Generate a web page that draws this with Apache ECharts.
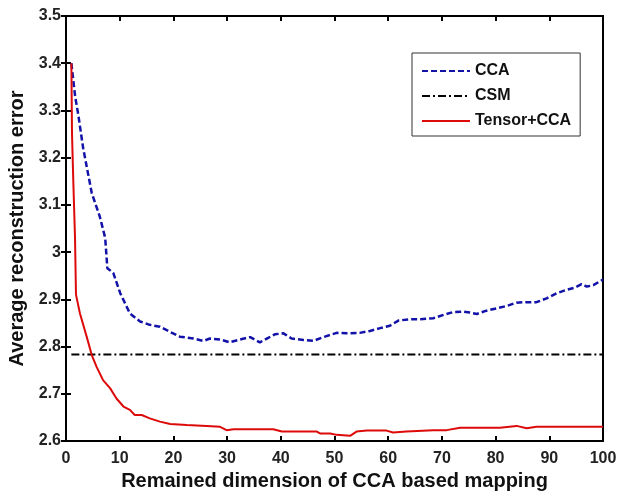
<!DOCTYPE html>
<html>
<head>
<meta charset="utf-8">
<script src="https://cdn.jsdelivr.net/npm/echarts@6/dist/echarts.min.js"></script>
<style>html,body{margin:0;padding:0;background:#fff}#c{width:619px;height:491px}</style>
</head>
<body>
<div id="c"></div>
<script>
const ccaX = [1,1.7,2.3,3.2,4.8,6.3,7.3,7.7,8.8,10.1,11.9,13.8,15.6,17.5,19.4,21.2,23.7,25.6,26.8,28.7,30.5,32.4,34.3,36.1,37.4,38.9,40.5,42.0,44.2,46.1,47.9,50.4,52.3,54.7,56.6,58.5,60.3,61.9,64.1,65.9,68.4,70.3,72.1,74.0,75.2,76.5,78.3,80.2,82.1,83.9,85.8,87.6,89.5,91.4,93.2,94.8,96.0,97.0,98.2,100];
const ccaY = [3.40,3.33,3.29,3.22,3.125,3.075,3.03,2.966,2.956,2.913,2.870,2.853,2.846,2.842,2.831,2.821,2.817,2.812,2.817,2.815,2.809,2.815,2.820,2.809,2.817,2.826,2.828,2.817,2.814,2.812,2.820,2.829,2.828,2.829,2.833,2.839,2.844,2.855,2.858,2.858,2.860,2.867,2.873,2.874,2.872,2.869,2.876,2.881,2.886,2.893,2.894,2.894,2.902,2.913,2.920,2.925,2.932,2.927,2.930,2.942];
const tensorX = [1,1.12,1.36,1.68,1.86,2.6,3.85,4.8,5.7,6.9,8.2,9.4,10.7,11.9,12.8,14.1,15.6,17.5,19.4,22.5,26.2,28.7,29.9,31.2,38.6,40.2,46.7,47.3,49.2,50.4,52.9,54.1,56,59.7,60.9,63.4,68.4,70.9,73.4,80.8,83.9,85.8,87.6,100];
const tensorY = [3.40,3.25,3.15,3.03,2.91,2.87,2.821,2.782,2.757,2.729,2.712,2.690,2.673,2.666,2.655,2.655,2.648,2.641,2.636,2.634,2.632,2.630,2.623,2.625,2.625,2.620,2.620,2.616,2.616,2.613,2.611,2.620,2.622,2.622,2.618,2.620,2.623,2.623,2.628,2.628,2.632,2.627,2.630,2.630];
const csmX = [1,100];
const csmY = [2.783,2.783];
const seriesNames = ['CCA','CSM','Tensor+CCA'];
const xTicks = {min:0,max:100,interval:10};
const yTicks = {min:2.6,max:3.5,interval:0.1};

const zip = (xs, ys) => xs.map((x, i) => [x, ys[i]]);
const labelFont = {color:'#222',fontFamily:'Liberation Sans, Arial',fontWeight:'bold',fontSize:16};
const titleFont = {fontFamily:'Liberation Sans, Arial',fontWeight:'bold',fontSize:20,color:'#111'};
const chart = echarts.init(document.getElementById('c'));
chart.setOption({
  animation:false,
  backgroundColor:'#fff',
  grid:{left:66,right:16,top:16,bottom:50,containLabel:false,outerBoundsMode:'none',show:true,borderColor:'#000',borderWidth:2,backgroundColor:'transparent'},
  legend:{
    orient:'vertical',left:412,top:53,
    padding:[10,9,7,9],itemGap:9,itemWidth:48,itemHeight:14,
    borderColor:'#333',borderWidth:1,backgroundColor:'#fff',
    itemStyle:{opacity:0},
    textStyle:{fontFamily:'Liberation Sans, Arial',fontWeight:'bold',fontSize:16,color:'#111'},
    data:seriesNames
  },
  xAxis:[{
    type:'value',min:xTicks.min,max:xTicks.max,interval:xTicks.interval,
    name:'Remained dimension of CCA based mapping',nameLocation:'middle',nameGap:28,
    nameTextStyle:titleFont,
    axisLine:{lineStyle:{color:'#000',width:2}},
    axisTick:{inside:true,length:5,lineStyle:{color:'#000',width:2}},
    axisLabel:Object.assign({margin:10},labelFont),
    splitLine:{show:false}
  },{
    type:'value',position:'top',min:xTicks.min,max:xTicks.max,interval:xTicks.interval,
    axisLine:{lineStyle:{color:'#000',width:2}},
    axisTick:{inside:true,length:5,lineStyle:{color:'#000',width:2}},
    axisLabel:{show:false},splitLine:{show:false}
  }],
  yAxis:[{
    type:'value',min:yTicks.min,max:yTicks.max,interval:yTicks.interval,
    name:'Average reconstruction error',nameLocation:'middle',nameGap:38,
    nameTextStyle:titleFont,
    axisLine:{lineStyle:{color:'#000',width:2}},
    axisTick:{inside:true,length:5,lineStyle:{color:'#000',width:2}},
    axisLabel:Object.assign({margin:5,formatter:v=>String(+v.toFixed(1))},labelFont),
    splitLine:{show:false}
  },{
    type:'value',position:'right',min:yTicks.min,max:yTicks.max,interval:yTicks.interval,
    axisLine:{lineStyle:{color:'#000',width:2}},
    axisTick:{inside:true,length:5,lineStyle:{color:'#000',width:2}},
    axisLabel:{show:false},splitLine:{show:false}
  }],
  series:[
    {name:seriesNames[0],type:'line',data:zip(ccaX,ccaY),symbol:'none',
     lineStyle:{color:'#1212a8',width:2.5,type:[6,3]},itemStyle:{color:'#1212a8'}},
    {name:seriesNames[1],type:'line',data:zip(csmX,csmY),symbol:'none',
     lineStyle:{color:'#000',width:2,type:[8,3,2,3]},itemStyle:{color:'#000'}},
    {name:seriesNames[2],type:'line',data:zip(tensorX,tensorY),symbol:'none',
     lineStyle:{color:'#dd0a0a',width:2},itemStyle:{color:'#dd0a0a'}}
  ]
});
</script>
</body>
</html>
